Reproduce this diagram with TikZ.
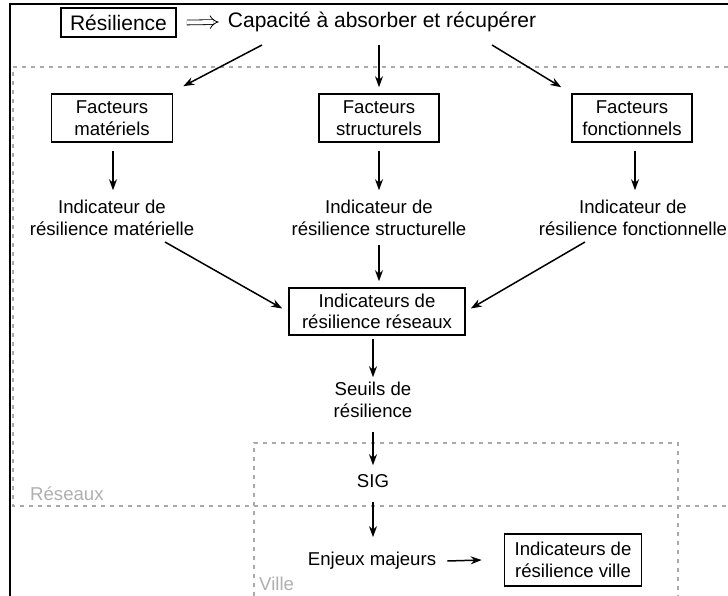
\documentclass[tikz,border=0pt]{standalone}
\usepackage{fontspec}
\setmainfont{Liberation Sans}
\usetikzlibrary{arrows.meta,calc}
\newcommand{\fsmain}{\fontsize{18.6}{21.5}\selectfont}
\newcommand{\fstop}{\fontsize{21}{24}\selectfont}
\definecolor{zonegray}{HTML}{AAAAAA}
\definecolor{labelgray}{HTML}{B0B0B0}
\begin{document}
\begin{tikzpicture}[x=1pt,y=-1pt,
 box/.style={draw, line width=1.6pt, align=center, font=\fsmain, inner sep=0pt},
 txt/.style={align=center, font=\fsmain, inner sep=0pt},
 arr/.style={line width=1.5pt, -{Stealth[length=11pt,width=8pt]}},
 zone/.style={draw=zonegray, line width=1.5pt, dash pattern=on 4pt off 5pt},
 zlabel/.style={text=labelgray, font=\fsmain, inner sep=0pt, anchor=west}]
\useasboundingbox (0,0) rectangle (728,596);
\fill[white] (0,0) rectangle (728,596);
% frame and zones
\draw[line width=2pt] (10,596) -- (10,4) -- (728,4);
\draw[zone] (728,67) -- (13,67) -- (13,506) -- (728,506);
\draw[zone] (254,596) -- (254,443) -- (678,443) -- (678,596);
\node[zlabel] (lr) at (30,494) {Réseaux};
\node[zlabel] (lv) at (259,584) {Ville};
% nodes
\node[box, minimum width=115pt, minimum height=29pt, font=\fstop] (resil) at (118.5,22.5) {Résilience};
\node[txt, font=\fstop] (cap) at (382,22) {Capacité à absorber et récupérer};
\node[box, minimum width=121pt, minimum height=48pt] (fm) at (112,118) {Facteurs\\matériels};
\node[box, minimum width=120pt, minimum height=48pt] (fs) at (379,118) {Facteurs\\structurels};
\node[box, minimum width=120pt, minimum height=48pt] (ff) at (632,118) {Facteurs\\fonctionnels};
\node[txt] (im) at (112,218) {Indicateur de\\résilience matérielle};
\node[txt] (is) at (379,218) {Indicateur de\\résilience structurelle};
\node[txt] (if) at (633,218) {Indicateur de\\résilience fonctionnelle};
\node[box, minimum width=176pt, minimum height=47pt] (rr) at (377,311.5) {Indicateurs de\\résilience réseaux};
\node[txt] (seuils) at (373,400) {Seuils de\\résilience};
\node[txt] (sig) at (373,481) {SIG};
\node[txt] (enj) at (372,561) {Enjeux majeurs};
\node[box, minimum width=137pt, minimum height=52pt] (iv) at (573,560) {Indicateurs de\\résilience ville};
% connectors
\draw[line width=0.8pt, double distance=4pt, -{Implies}] ($(resil.east)+(10,0)$) -- ($(cap.west)+(-9,0)$);
\draw[arr] ($(cap.center)+(-120,23)$) -- ($(fm.north east)+(10,-7)$);
\draw[arr] ($(cap.center -| fs.center)+(0,23)$) -- ($(fs.north)+(0,-6)$);
\draw[arr] ($(cap.center)+(110,23)$) -- ($(ff.north west)+(-10,-6)$);
\draw[arr] ($(fm.south)+(1,8)$) -- ($(im.north -| fm.south)+(1,-10)$);
\draw[arr] ($(fs.south)+(0,8)$) -- ($(is.north -| fs.south)+(0,-10)$);
\draw[arr] ($(ff.south)+(3,8)$) -- ($(if.north -| ff.south)+(3,-10)$);
\draw[arr] ($(im.center)+(53,24)$) -- ($(rr.west)+(-6,-3)$);
\draw[arr] ($(is.center)+(0,27)$) -- ($(rr.north -| is.center)+(0,-6)$);
\draw[arr] ($(if.center)+(-48,24)$) -- ($(rr.east)+(5,-3)$);
\draw[arr] ($(rr.south -| seuils.north)+(0,3)$) -- ($(seuils.north)+(0,-5)$);
\draw[arr] ($(seuils.south)+(0,14)$) -- ($(sig.north)+(0,-9)$);
\draw[arr] ($(sig.south)+(0,14)$) -- ($(enj.north -| sig.south)+(0,-15)$);
\draw[arr] ($(enj.east)+(11,0)$) -- ($(iv.west)+(-22,0)$);
\end{tikzpicture}
\end{document}
